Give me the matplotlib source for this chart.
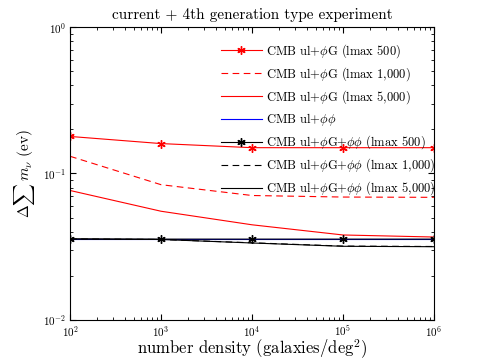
import math
import matplotlib
matplotlib.use('Agg')
import matplotlib.pyplot as plt
from matplotlib.ticker import LogLocator, FuncFormatter

plt.rcParams['font.family'] = 'serif'
plt.rcParams['font.serif'] = ['cmr10', 'DejaVu Serif']
plt.rcParams['mathtext.fontset'] = 'cm'
plt.rcParams['axes.formatter.use_mathtext'] = True

# 数据
density = [1e2, 1e3, 1e4, 1e5, 1e6]
phiG_500 = [0.179, 0.160, 0.150, 0.150, 0.150]
phiG_1000 = [0.131, 0.0838, 0.0707, 0.069, 0.0687]
phiG_5000 = [0.0765, 0.0552, 0.0446, 0.038, 0.0368]
phiphi = [0.0357, 0.0357, 0.0357, 0.0357, 0.0357]
both_500 = [0.0357, 0.0356, 0.0356, 0.0356, 0.0356]
both_1000 = [0.0357, 0.0354, 0.0336, 0.0319, 0.0317]
both_5000 = [0.0357, 0.0354, 0.0335, 0.0318, 0.0316]

labels = [r'CMB ul+$\phi$G (lmax 500)',
          r'CMB ul+$\phi$G (lmax 1,000)',
          r'CMB ul+$\phi$G (lmax 5,000)',
          r'CMB ul+$\phi\phi$',
          r'CMB ul+$\phi$G+$\phi\phi$ (lmax 500)',
          r'CMB ul+$\phi$G+$\phi\phi$ (lmax 1,000)',
          r'CMB ul+$\phi$G+$\phi\phi$ (lmax 5,000)']

fig = plt.figure(figsize=(4.8, 3.61), dpi=100)
ax = fig.add_axes([0.146, 0.114, 0.758, 0.811])

star = (6, 2, 0)
ax.plot(density, phiG_500, color='r', lw=0.8, marker=star, ms=6, mew=1, label=labels[0])
ax.plot(density, phiG_1000, color='r', lw=0.8, ls=(0, (6, 4)), label=labels[1])
ax.plot(density, phiG_5000, color='r', lw=0.8, label=labels[2])
ax.plot(density, phiphi, color='b', lw=0.8, label=labels[3])
ax.plot(density, both_500, color='k', lw=0.8, marker=star, ms=6, mew=1, label=labels[4])
ax.plot(density, both_1000, color='k', lw=0.8, ls=(0, (6, 4)), label=labels[5])
ax.plot(density, both_5000, color='k', lw=0.8, label=labels[6])

ax.set_xscale('log')
ax.set_yscale('log')
ax.set_xlim(1e2, 1e6)
ax.set_ylim(1e-2, 1e0)

fmt = FuncFormatter(lambda v, p: r'$\mathsf{10^{%d}}$' % round(math.log10(v)))
ax.xaxis.set_major_formatter(fmt)
ax.yaxis.set_major_formatter(fmt)
ax.xaxis.set_major_locator(LogLocator(base=10, numticks=10))
ax.yaxis.set_major_locator(LogLocator(base=10, numticks=10))
ax.tick_params(which='both', direction='in', top=True, right=True, labelsize=8)
ax.tick_params(which='major', length=4, pad=3)
ax.tick_params(which='minor', length=2)

ax.set_title('current + 4th generation type experiment', fontsize=11)
ax.set_xlabel(r'number density (galaxies/deg$^2$)', fontsize=12, labelpad=-1)
ax.set_ylabel(r'$\Delta\sum\, m_\nu$ (ev)', fontsize=11, labelpad=4)

ax.legend(loc='upper left', bbox_to_anchor=(0.40, 0.965), frameon=False,
          fontsize=9, labelspacing=0.42, handlelength=3.3, handletextpad=0.3,
          borderaxespad=0)

fig.savefig('out.png', dpi=100)
